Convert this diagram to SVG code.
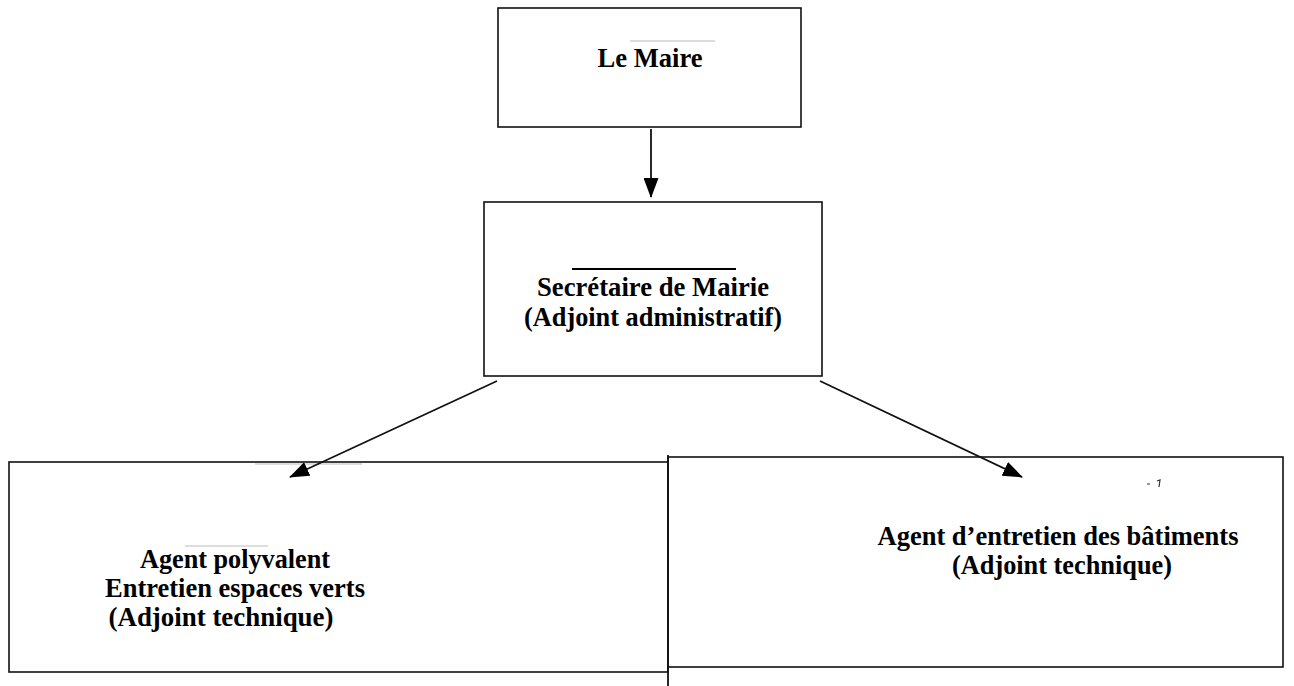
<svg xmlns="http://www.w3.org/2000/svg" width="1294" height="686" viewBox="0 0 1294 686">
<style>
.box{fill:#fff;stroke:#111;stroke-width:1.6}
.c{stroke:#111;stroke-width:1.8;fill:none}
.faint{stroke:#bbb;stroke-width:1.2}
</style>
<defs>
<marker id="ah" viewBox="0 0 20 15" refX="19" refY="7.5" markerWidth="20" markerHeight="15" markerUnits="userSpaceOnUse" orient="auto">
<path d="M0,0 L20,7.5 L0,15 Z" fill="#000"/>
</marker>
</defs>
<rect width="1294" height="686" fill="#fff"/>
<g font-family="Liberation Serif, Times New Roman, serif" font-weight="bold" font-size="27" text-anchor="middle" fill="#000">
<g id="maire">
<rect class="box" x="498" y="8" width="303" height="119"/>
<line class="faint" x1="630" y1="41" x2="715" y2="41"/>
<text x="650" y="67" textLength="105" lengthAdjust="spacingAndGlyphs">Le Maire</text>
</g>
<g id="secretaire">
<rect class="box" x="484" y="202" width="338" height="174"/>
<line x1="572" y1="269" x2="736" y2="269" stroke="#000" stroke-width="2"/>
<text x="653" y="296" textLength="232" lengthAdjust="spacingAndGlyphs">Secrétaire de Mairie</text>
<text x="653" y="326" textLength="258" lengthAdjust="spacingAndGlyphs">(Adjoint administratif)</text>
</g>
<g id="agent-polyvalent">
<rect class="box" x="9" y="462" width="659" height="210"/>
<line class="faint" x1="255" y1="464" x2="362" y2="464"/>
<line class="faint" x1="185" y1="546" x2="268" y2="546"/>
<text x="235" y="568" textLength="190" lengthAdjust="spacingAndGlyphs">Agent polyvalent</text>
<text x="235" y="597" textLength="260" lengthAdjust="spacingAndGlyphs">Entretien espaces verts</text>
<text x="221" y="626" textLength="225" lengthAdjust="spacingAndGlyphs">(Adjoint technique)</text>
</g>
<g id="agent-entretien">
<rect class="box" x="668" y="457" width="615" height="210"/>
<path d="M1147,484 L1150,484 M1157,481 L1160,480 L1159,487" stroke="#333" stroke-width="1.2" fill="none"/>
<text x="1058" y="545" textLength="361" lengthAdjust="spacingAndGlyphs">Agent d’entretien des bâtiments</text>
<text x="1062" y="574" textLength="220" lengthAdjust="spacingAndGlyphs">(Adjoint technique)</text>
</g>
</g>
<g id="connectors">
<line class="c" x1="651" y1="129" x2="651" y2="197" marker-end="url(#ah)"/>
<line class="c" x1="497" y1="381" x2="290" y2="477" marker-end="url(#ah)"/>
<line class="c" x1="820" y1="381" x2="1022" y2="477" marker-end="url(#ah)"/>
<line class="c" x1="668" y1="455" x2="668" y2="686"/>
</g>
</svg>
